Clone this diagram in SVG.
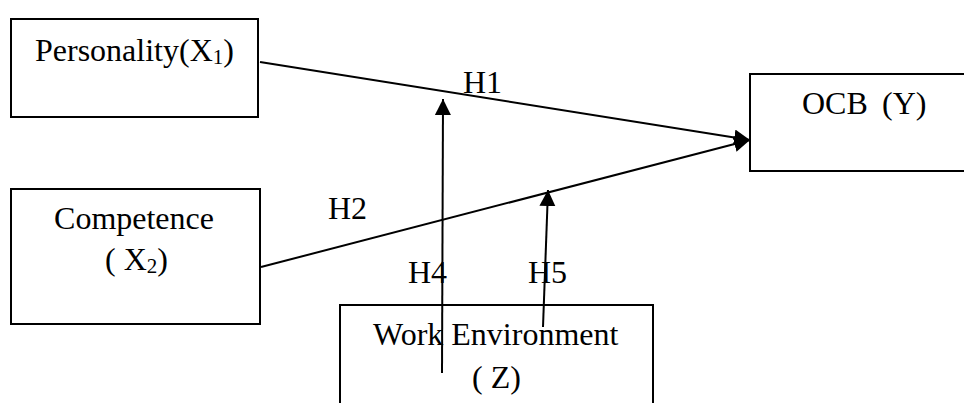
<svg xmlns="http://www.w3.org/2000/svg" width="964" height="403" viewBox="0 0 964 403">
<defs>
<style>
.box{fill:#fff;stroke:#000;stroke-width:2}
.t{font-family:"Liberation Serif","Times New Roman",serif;font-size:32px;fill:#000}
.sub{font-size:21px}
.c{stroke:#000;stroke-width:2;fill:none}
</style>
<marker id="ah" markerUnits="userSpaceOnUse" markerWidth="17" markerHeight="17" refX="16" refY="8" orient="auto">
<path d="M0,0 L16,8 L0,16 z" fill="#000"/>
</marker>
</defs>
<rect width="964" height="403" fill="#fff"/>
<g id="personality">
<rect class="box" x="11" y="19" width="247" height="98"/>
<text class="t" x="35" y="61">Personality(X<tspan class="sub" dy="3">1</tspan><tspan dy="-3">)</tspan></text>
</g>
<g id="competence">
<rect class="box" x="11" y="189" width="249" height="135"/>
<text class="t" x="134" y="229" text-anchor="middle">Competence</text>
<text class="t" x="105" y="270">( X<tspan class="sub" dy="3">2</tspan><tspan dy="-3">)</tspan></text>
</g>
<g id="ocb">
<rect class="box" x="750" y="74" width="220" height="97"/>
<text class="t" y="114"><tspan x="802">OCB</tspan><tspan x="882">(Y)</tspan></text>
</g>
<g id="work-environment">
<rect class="box" x="340" y="305" width="313" height="110"/>
<text class="t" x="373" y="345">Work Environment</text>
<text class="t" x="472" y="388">( Z)</text>
</g>
<g id="labels">
<text class="t" x="463" y="93">H1</text>
<text class="t" x="328" y="219">H2</text>
<text class="t" x="408" y="283">H4</text>
<text class="t" x="528" y="283">H5</text>
</g>
<g id="connectors">
<line class="c" x1="260" y1="62" x2="750" y2="140" marker-end="url(#ah)"/>
<line class="c" x1="261" y1="267" x2="750" y2="140" marker-end="url(#ah)"/>
<line class="c" x1="442" y1="373" x2="443" y2="99" marker-end="url(#ah)"/>
<line class="c" x1="543" y1="327" x2="548" y2="190" marker-end="url(#ah)"/>
</g>
</svg>
